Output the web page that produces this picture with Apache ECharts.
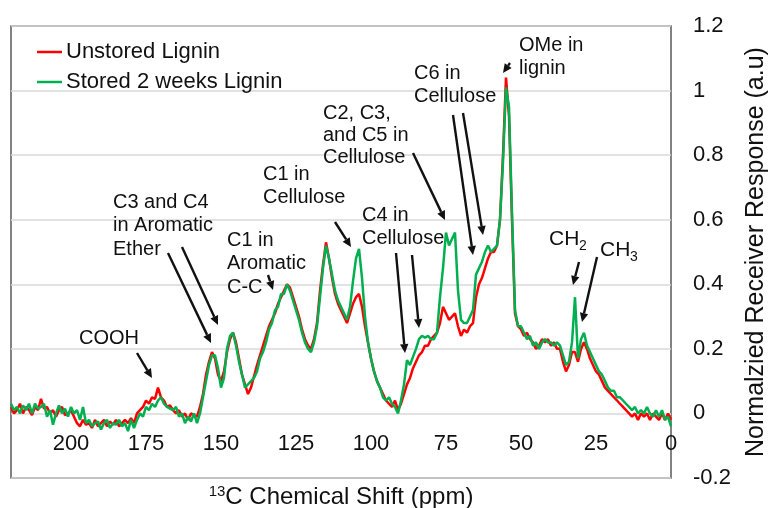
<!DOCTYPE html>
<html>
<head>
<meta charset="utf-8">
<script src="https://cdn.jsdelivr.net/npm/echarts@6/dist/echarts.min.js"></script>
<style>
html,body{margin:0;padding:0;background:#fff;}
#chart{width:770px;height:508px;}
</style>
</head>
<body>
<div id="chart"></div>
<script>
// Chemical shift grid: first point at 220 ppm, one value per ppm down to 0 ppm
const ppmStart = 220;
const ppmStep = 1;
const seriesNames = ['Unstored Lignin', 'Stored 2 weeks Lignin'];
const xTicks = [200, 175, 150, 125, 100, 75, 50, 25, 0];

const unstored = [
  0.02,0.00,0.01,0.03,0.00,0.02,0.01,-0.005,0.02,0.01,
  0.045,0.015,0.02,0.00,0.01,-0.01,0.01,0.02,-0.005,0.00,
  0.01,-0.01,-0.03,-0.04,-0.02,-0.035,-0.03,-0.045,-0.02,-0.04,
  -0.03,-0.02,-0.04,-0.025,-0.035,-0.02,-0.04,-0.03,-0.02,-0.03,
  -0.015,-0.03,0.00,0.01,0.02,0.04,0.03,0.05,0.045,0.08,
  0.05,0.04,0.02,0.025,0.01,0.00,0.01,-0.01,0.00,-0.02,
  0.00,-0.005,-0.01,0.02,0.06,0.12,0.16,0.19,0.17,0.12,
  0.10,0.13,0.19,0.23,0.25,0.22,0.17,0.12,0.09,0.06,
  0.08,0.115,0.15,0.18,0.21,0.24,0.27,0.29,0.31,0.34,
  0.36,0.38,0.40,0.39,0.36,0.33,0.30,0.26,0.23,0.21,
  0.20,0.23,0.28,0.38,0.46,0.53,0.48,0.42,0.37,0.34,
  0.32,0.30,0.28,0.31,0.34,0.36,0.37,0.33,0.27,0.22,
  0.17,0.13,0.10,0.08,0.06,0.04,0.03,0.02,0.04,0.01,
  0.03,0.06,0.09,0.11,0.14,0.16,0.18,0.19,0.21,0.21,
  0.23,0.24,0.25,0.28,0.33,0.31,0.29,0.30,0.31,0.27,
  0.24,0.26,0.25,0.27,0.28,0.36,0.40,0.42,0.45,0.48,
  0.50,0.50,0.52,0.60,0.80,1.04,0.92,0.60,0.31,0.27,
  0.26,0.24,0.25,0.23,0.22,0.20,0.21,0.23,0.22,0.23,
  0.21,0.22,0.20,0.20,0.16,0.13,0.15,0.19,0.19,0.16,
  0.20,0.22,0.20,0.17,0.15,0.13,0.12,0.10,0.08,0.07,
  0.06,0.05,0.04,0.03,0.02,0.01,0.00,-0.01,0.00,-0.02,
  0.00,-0.01,0.00,-0.02,0.00,-0.01,-0.02,0.00,-0.02,0.00,
  -0.02
];

const stored = [
  0.03,0.01,0.02,0.00,0.025,0.01,0.03,0.00,0.03,0.015,
  0.02,0.03,-0.01,0.01,-0.035,0.00,0.025,0.00,0.015,-0.01,
  0.02,0.00,0.01,-0.02,0.02,-0.03,-0.02,-0.04,-0.03,-0.025,
  -0.05,-0.03,-0.02,-0.045,-0.03,-0.035,-0.02,-0.04,-0.03,-0.055,
  -0.02,-0.045,-0.02,0.00,-0.01,0.02,0.01,0.03,0.02,0.04,
  0.05,0.03,0.02,0.015,0.01,0.02,-0.01,0.00,-0.03,-0.01,
  -0.025,0.00,-0.03,0.00,0.05,0.10,0.15,0.18,0.18,0.14,
  0.08,0.11,0.20,0.24,0.25,0.21,0.16,0.12,0.08,0.09,
  0.10,0.11,0.13,0.17,0.19,0.22,0.26,0.28,0.32,0.33,
  0.37,0.37,0.40,0.38,0.35,0.32,0.29,0.25,0.22,0.20,
  0.19,0.22,0.27,0.36,0.45,0.52,0.48,0.43,0.38,0.35,
  0.33,0.31,0.29,0.33,0.41,0.48,0.51,0.42,0.30,0.22,
  0.17,0.13,0.10,0.08,0.05,0.04,0.05,0.03,0.02,0.00,
  0.04,0.09,0.165,0.15,0.175,0.20,0.23,0.24,0.235,0.24,
  0.23,0.23,0.25,0.36,0.45,0.56,0.52,0.54,0.56,0.38,
  0.29,0.28,0.28,0.30,0.32,0.43,0.45,0.47,0.50,0.52,
  0.50,0.51,0.52,0.60,0.78,1.01,0.95,0.62,0.32,0.27,
  0.27,0.25,0.23,0.24,0.21,0.22,0.20,0.22,0.23,0.22,
  0.22,0.21,0.22,0.21,0.18,0.15,0.16,0.22,0.36,0.17,
  0.23,0.25,0.21,0.19,0.17,0.15,0.13,0.12,0.10,0.08,
  0.07,0.07,0.05,0.05,0.04,0.03,0.02,0.01,0.02,0.00,
  0.01,0.00,0.02,0.00,-0.01,0.01,-0.01,0.01,-0.02,-0.01,
  -0.04
];

const FONT = '"Liberation Sans", Arial, sans-serif';
const toXY = arr => arr.map((v, i) => [ppmStart - i * ppmStep, v]);

const chart = echarts.init(document.getElementById('chart'), null, {renderer: 'canvas'});

// annotation helpers (pixel layout of labels / arrows)
function arrow(x1, y1, x2, y2) {
  const a = Math.atan2(y2 - y1, x2 - x1);
  const L = 9, W = 4.2;
  const c = Math.cos(a), s = Math.sin(a);
  const bx = x2 - L * c, by = y2 - L * s;
  return [
    {type: 'line', shape: {x1: x1, y1: y1, x2: bx, y2: by}, style: {stroke: '#111', lineWidth: 2.4}, z: 100},
    {type: 'polygon', shape: {points: [[x2, y2], [bx + W * s, by - W * c], [bx - W * s, by + W * c]]}, style: {fill: '#111'}, z: 100}
  ];
}
function label(text, x, yFirstCenter, size, lh) {
  size = size || 20; lh = lh || 23.5;
  return {type: 'text', x: x, y: yFirstCenter - lh / 2, z: 100,
    style: {text: text, font: size + 'px ' + FONT, fill: '#111', lineHeight: lh, verticalAlign: 'top', align: 'left'}};
}

const graphics = [].concat(
  [label('COOH', 79, 338)],
  arrow(137, 353, 152, 378),
  [label('C3 and C4\nin Aromatic\nEther', 113, 202)],
  arrow(168, 253, 211, 343),
  arrow(182, 247, 218, 325),
  [label('C1 in\nAromatic\nC-C', 227, 240)],
  arrow(268, 275, 273, 290),
  [label('C1 in\nCellulose', 263, 174)],
  arrow(335, 222, 351, 247),
  [label('C4 in\nCellulose', 362, 215)],
  arrow(396, 253, 405, 353),
  arrow(412, 255, 419, 328),
  [label('C2, C3,\nand C5 in\nCellulose', 323, 113, 20, 22)],
  arrow(413, 153, 445, 220),
  [label('C6 in\nCellulose', 414, 73)],
  arrow(453, 115, 473, 255),
  arrow(463, 113, 483, 235),
  [label('OMe in\nlignin', 519, 45)],
  arrow(510, 63, 503, 73),
  [label('CH', 549, 239, 21), label('2', 579, 246, 14, 16)],
  arrow(579, 262, 573, 285),
  [label('CH', 600, 250, 21), label('3', 630, 257, 14, 16)],
  arrow(597, 257, 582, 322)
);

const option = {
  animation: false,
  backgroundColor: '#fff',
  textStyle: {fontFamily: FONT},
  grid: {left: 11, right: 99, top: 26, bottom: 30, show: true, borderColor: '#595959', borderWidth: 1.5,
    backgroundColor: 'transparent', containLabel: false, outerBoundsMode: 'none'},
  legend: {
    data: seriesNames, orient: 'vertical', left: 32, top: 36,
    icon: 'rect', itemWidth: 25, itemHeight: 2.5, itemGap: 8,
    textStyle: {fontSize: 22, color: '#111', fontFamily: FONT, padding: [0, 0, 0, -1]}
  },
  xAxis: {
    type: 'value', min: 0, max: 220, interval: 25, inverse: true,
    axisLine: {show: false, onZero: false},
    axisTick: {show: false},
    splitLine: {show: false},
    axisLabel: {inside: true, fontSize: 22, color: '#111', margin: 23, fontFamily: FONT, showMaxLabel: false,
      formatter: v => (xTicks.indexOf(v) >= 0 ? String(v) : '')},
    name: '{sup|13}C Chemical Shift (ppm)', nameLocation: 'middle', nameGap: 3,
    nameTextStyle: {fontSize: 24, color: '#111', fontFamily: FONT, verticalAlign: 'top',
      rich: {sup: {fontSize: 15, color: '#111', fontFamily: FONT, padding: [0, 0, 11, 0]}}}
  },
  yAxis: {
    type: 'value', min: -0.2, max: 1.2, interval: 0.2, position: 'right',
    axisLine: {show: false}, axisTick: {show: false},
    splitLine: {show: true, lineStyle: {color: '#d9d9d9', width: 1.5}},
    axisLabel: {fontSize: 22, color: '#111', margin: 22, fontFamily: FONT,
      formatter: v => String(Math.round(v * 10) / 10)},
    name: 'Normalzied Receiver Response (a.u)', nameLocation: 'middle', nameRotate: 90, nameGap: 73,
    nameTextStyle: {fontSize: 25, color: '#111', fontFamily: FONT}
  },
  series: [
    {name: seriesNames[0], type: 'line', data: toXY(unstored), symbol: 'none', color: '#ff0000',
      lineStyle: {color: '#ff0000', width: 2.5}, z: 2},
    {name: seriesNames[1], type: 'line', data: toXY(stored), symbol: 'none', color: '#00b050',
      lineStyle: {color: '#00b050', width: 2.5}, z: 3}
  ],
  graphic: graphics
};
chart.setOption(option);
</script>
</body>
</html>
